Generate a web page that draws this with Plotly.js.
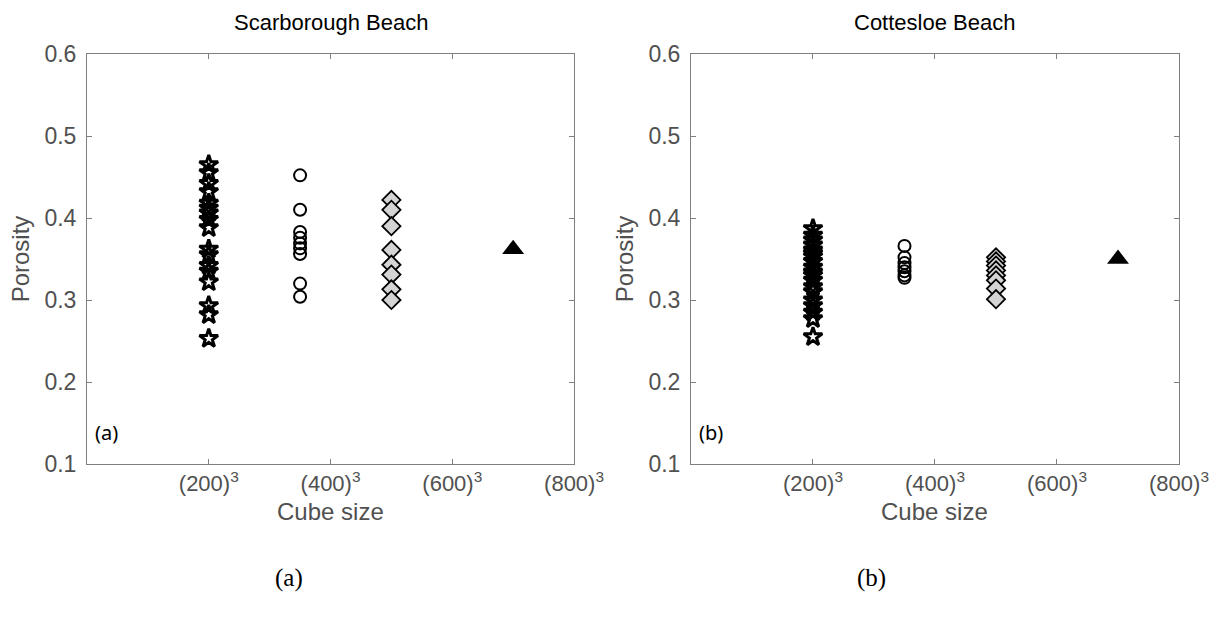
<!DOCTYPE html>
<html>
<head>
<meta charset="utf-8">
<script src="https://cdn.plot.ly/plotly-3.0.1.min.js"></script>
<style>html,body{margin:0;padding:0;background:#fff;}#chart{width:1224px;height:621px;}</style>
</head>
<body>
<div id="chart"></div>
<script>
// Group positions on the cube-size axis (edge length)
const groupX = [200, 350, 500, 700];
const tickVals = [200, 400, 600, 800];
const tickLabels = ['(200)<sup>3</sup>', '(400)<sup>3</sup>', '(600)<sup>3</sup>', '(800)<sup>3</sup>'];
const panelTitles = ['Scarborough Beach', 'Cottesloe Beach'];
const panelTags = ['(a)', '(b)'];
const xLabel = 'Cube size';
const yLabel = 'Porosity';

// Scarborough Beach porosity values
const scarStars = [0.465, 0.455, 0.442, 0.432, 0.418, 0.412, 0.406, 0.398, 0.388, 0.362, 0.355, 0.342, 0.335, 0.322, 0.293, 0.282, 0.253];
const scarCircles = [0.452, 0.410, 0.383, 0.376, 0.369, 0.363, 0.356, 0.320, 0.304];
const scarDiamonds = [0.422, 0.410, 0.390, 0.361, 0.343, 0.331, 0.313, 0.300];
const scarTriangle = [0.362];

// Cottesloe Beach porosity values
const cottStars = [0.387, 0.379, 0.373, 0.367, 0.361, 0.357, 0.353, 0.347, 0.340, 0.334, 0.330, 0.324, 0.316, 0.310, 0.300, 0.293, 0.285, 0.277, 0.255];
const cottCircles = [0.366, 0.352, 0.345, 0.340, 0.335, 0.330, 0.327];
const cottDiamonds = [0.352, 0.347, 0.342, 0.336, 0.330, 0.324, 0.314, 0.301];
const cottTriangle = [0.350];

const markerStyles = [
  {symbol: 'star-open', size: 14, color: '#000', line: {color: '#000', width: 3}},
  {symbol: 'circle-open', size: 12, color: '#000', line: {color: '#000', width: 2}},
  {symbol: 'diamond', size: 14, color: '#d4d4d4', line: {color: '#000', width: 1.8}},
  {symbol: 'triangle-up', size: 19, color: '#000', line: {color: '#000', width: 0}}
];

function groupTraces(groups, xa, ya) {
  return groups.map((vals, i) => ({
    type: 'scatter', mode: 'markers',
    x: vals.map(() => groupX[i]), y: vals,
    xaxis: xa, yaxis: ya,
    marker: markerStyles[i],
    showlegend: false, hoverinfo: 'x+y'
  }));
}

const traces = [
  ...groupTraces([scarStars, scarCircles, scarDiamonds, scarTriangle], 'x', 'y'),
  ...groupTraces([cottStars, cottCircles, cottDiamonds, cottTriangle], 'x2', 'y2')
];

const axisColor = '#7f7f7f';
const labelColor = '#505050';
const fontFam = 'Liberation Sans, Arial, sans-serif';

function xAxis(domain, anchor) {
  return {
    domain: domain, anchor: anchor, range: [0, 800],
    tickmode: 'array', tickvals: tickVals, ticktext: tickLabels,
    ticks: 'inside', ticklen: 5, tickcolor: axisColor, tickwidth: 1,
    showline: true, linecolor: axisColor, linewidth: 1, mirror: 'ticks',
    showgrid: false, zeroline: false,
    tickfont: {family: fontFam, size: 22, color: labelColor}
  };
}
function yAxis(anchor) {
  return {
    domain: [0, 1], anchor: anchor, range: [0.1, 0.6],
    tickmode: 'array', tickvals: [0.1, 0.2, 0.3, 0.4, 0.5, 0.6],
    tickformat: '.1f',
    ticks: 'inside', ticklen: 5, tickcolor: axisColor, tickwidth: 1,
    showline: true, linecolor: axisColor, linewidth: 1, mirror: 'ticks',
    showgrid: false, zeroline: false,
    ticklabelstandoff: 5,
    tickfont: {family: fontFam, size: 23, color: labelColor},
    title: {text: yLabel, font: {family: fontFam, size: 24, color: labelColor}, standoff: 8}
  };
}

const annotations = [];
const captionX = [0.415, 0.37];
[['x', 'y'], ['x2', 'y2']].forEach((ax, i) => {
  annotations.push({
    text: panelTitles[i], xref: ax[0] + ' domain', yref: 'paper',
    x: 0.5, y: 1.078, xanchor: 'center', yanchor: 'middle', showarrow: false,
    font: {family: fontFam, size: 22, color: '#000'}
  });
  annotations.push({
    text: xLabel, xref: ax[0] + ' domain', yref: 'paper',
    x: 0.5, y: -0.117, xanchor: 'center', yanchor: 'middle', showarrow: false,
    font: {family: fontFam, size: 24, color: labelColor}
  });
  annotations.push({
    text: panelTags[i], xref: ax[0] + ' domain', yref: ax[1] + ' domain',
    x: 0.012, y: 0.078, xanchor: 'left', yanchor: 'middle', showarrow: false,
    font: {family: 'Noto Sans, sans-serif', size: 20, color: '#000'}
  });
  annotations.push({
    text: panelTags[i], xref: ax[0] + ' domain', yref: 'paper',
    x: captionX[i], y: -0.278, xanchor: 'center', yanchor: 'middle', showarrow: false,
    font: {family: 'Liberation Serif, Times New Roman, serif', size: 25, color: '#000'}
  });
});

const layout = {
  width: 1224, height: 621,
  margin: {l: 87, r: 45, t: 54, b: 157},
  paper_bgcolor: '#fff', plot_bgcolor: '#fff',
  xaxis: xAxis([0, 0.446], 'y'),
  yaxis: yAxis('x'),
  xaxis2: xAxis([0.5531, 1], 'y2'),
  yaxis2: yAxis('x2'),
  annotations: annotations,
  showlegend: false
};

Plotly.newPlot('chart', traces, layout, {displayModeBar: false, staticPlot: true});
</script>
</body>
</html>
